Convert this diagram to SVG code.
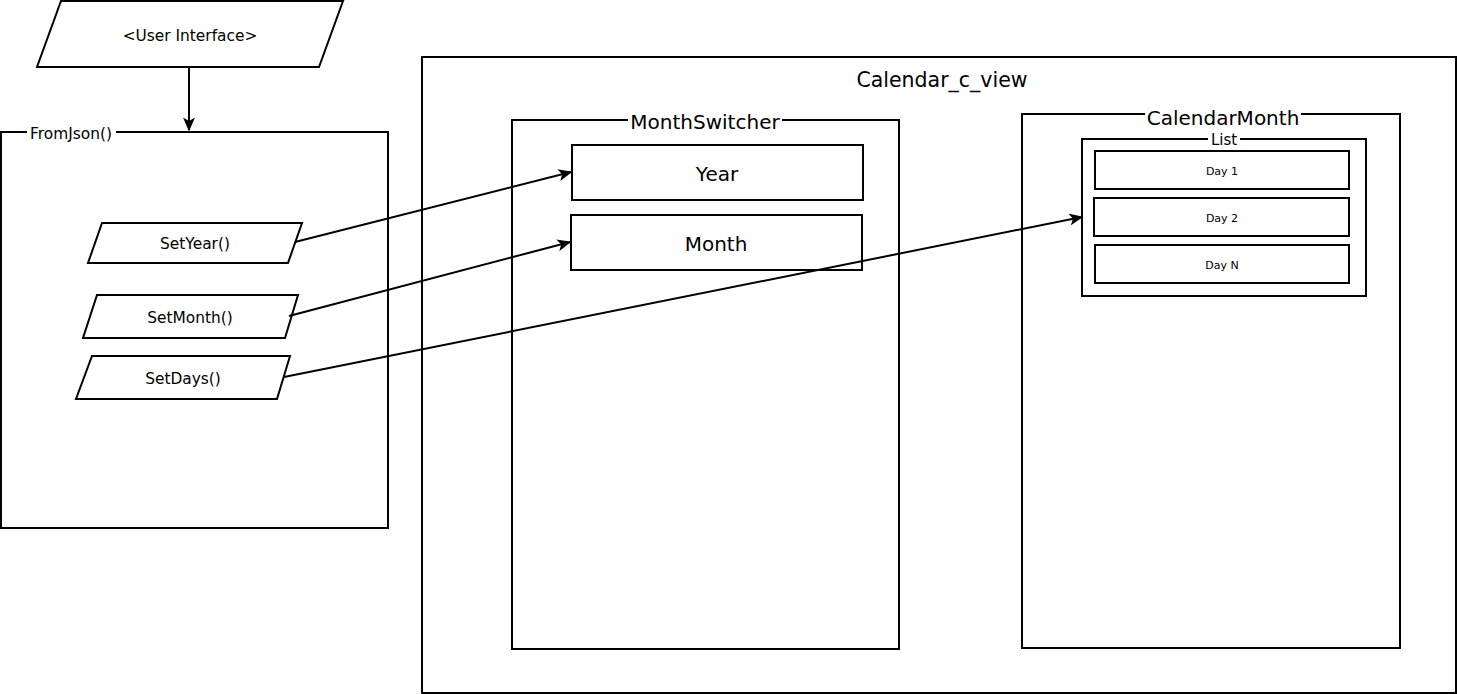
<svg xmlns="http://www.w3.org/2000/svg" width="1457" height="694" viewBox="0 0 1457 694">
  <style>
    .shape { fill: #fff; stroke: #000; stroke-width: 2; }
    .t { font-family: "DejaVu Sans", Verdana, sans-serif; fill: #000; text-anchor: middle; dominant-baseline: central; }
    .m { font-size: 15.4px; }
    .conn { stroke: #000; stroke-width: 2; fill: none; marker-end: url(#arrow); }
    .lbl-bg { fill: #fff; }
  </style>
  <defs>
    <marker id="arrow" viewBox="0 0 10 10" refX="9" refY="5" markerWidth="14" markerHeight="12" markerUnits="userSpaceOnUse" orient="auto" preserveAspectRatio="none">
      <path d="M0,0 L10,5 L0,10 L2.5,5 Z" fill="#000"/>
    </marker>
  </defs>
  <rect width="1457" height="694" fill="#fff"/>

  <g id="user-interface">
    <polygon class="shape" points="61,1 343,1 319,67 37,67"/>
    <text class="t m" x="190" y="36">&lt;User Interface&gt;</text>
  </g>

  <g id="from-json">
    <rect class="shape" x="1" y="132" width="387" height="396"/>
    <rect class="lbl-bg" x="27" y="125" width="89" height="14"/>
    <text class="t m" x="71" y="134">FromJson()</text>
  </g>

  <g id="set-year">
    <polygon class="shape" points="102,223 302,223 288,263 88,263"/>
    <text class="t m" x="195" y="244">SetYear()</text>
  </g>
  <g id="set-month">
    <polygon class="shape" points="97,295 298,295 285,338 83,338"/>
    <text class="t m" x="190" y="318">SetMonth()</text>
  </g>
  <g id="set-days">
    <polygon class="shape" points="92,356 290,356 277,399 76,399"/>
    <text class="t m" x="183" y="379">SetDays()</text>
  </g>

  <g id="calendar-c-view">
    <rect class="shape" x="422" y="57" width="1034" height="636"/>
    <text class="t" x="942" y="80" font-size="20.5">Calendar_c_view</text>
  </g>

  <g id="month-switcher">
    <rect class="shape" x="512" y="120" width="387" height="529"/>
    <rect class="lbl-bg" x="628" y="112" width="154" height="16"/>
    <text class="t" x="705" y="122" font-size="20">MonthSwitcher</text>
  </g>
  <g id="year">
    <rect class="shape" x="572" y="145" width="291" height="55"/>
    <text class="t" x="717" y="174" font-size="20">Year</text>
  </g>
  <g id="month">
    <rect class="shape" x="571" y="215" width="291" height="55"/>
    <text class="t" x="716" y="244" font-size="20">Month</text>
  </g>

  <g id="calendar-month">
    <rect class="shape" x="1022" y="114" width="378" height="534"/>
    <rect class="lbl-bg" x="1145" y="106" width="156" height="16"/>
    <text class="t" x="1223" y="118" font-size="20">CalendarMonth</text>
  </g>
  <g id="list">
    <rect class="shape" x="1082" y="139" width="284" height="157"/>
    <rect class="lbl-bg" x="1208" y="132" width="32" height="13"/>
    <text class="t" x="1224" y="140" font-size="15">List</text>
  </g>
  <g id="day-1">
    <rect class="shape" x="1095" y="151" width="254" height="38"/>
    <text class="t" x="1222" y="171" font-size="11">Day 1</text>
  </g>
  <g id="day-2">
    <rect class="shape" x="1094" y="198" width="255" height="38"/>
    <text class="t" x="1222" y="218" font-size="11">Day 2</text>
  </g>
  <g id="day-n">
    <rect class="shape" x="1095" y="245" width="254" height="38"/>
    <text class="t" x="1222" y="265" font-size="11">Day N</text>
  </g>

  <g id="connectors">
    <line class="conn" x1="189" y1="67" x2="189" y2="130"/>
    <line class="conn" x1="295" y1="242" x2="571" y2="172"/>
    <line class="conn" x1="289" y1="316" x2="570" y2="242"/>
    <line class="conn" x1="284" y1="377" x2="1082" y2="217"/>
  </g>
</svg>
